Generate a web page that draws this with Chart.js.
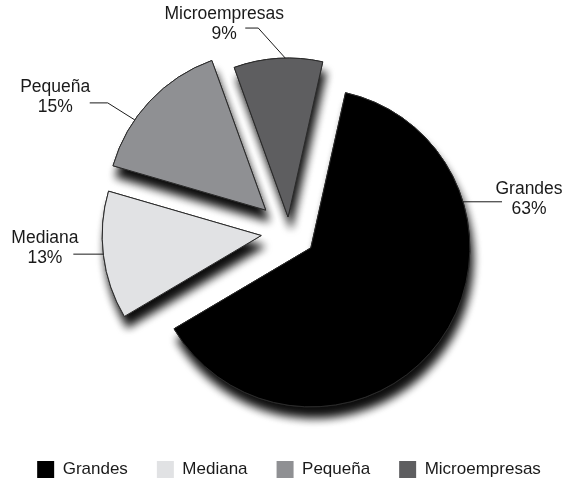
<!DOCTYPE html>
<html>
<head>
<meta charset="utf-8">
<script src="https://cdn.jsdelivr.net/npm/chart.js@4"></script>
<style>
  body { margin: 0; background: #fff; }
  #wrap { width: 572px; height: 481px; }
</style>
</head>
<body>
<div id="wrap"><canvas id="pieChart"></canvas></div>
<script>
var labels = ["Grandes", "Mediana", "Pequeña", "Microempresas"];
var values = [63, 13, 15, 9];
var colors = ["#000000", "#e1e2e4", "#8f9093", "#5e5e60"];

// how far each slice is pulled out from the centre (px)
var explode = [27, 28, 32, 15];
// where along each slice the leader line touches the rim (0..1)
var labelAt = [0.267, 0.51, 0.34, 0.58];
var leaders = [
    { elbow: [0, 0], tail: 39, text: [27, -3] },
    { elbow: [0, 0], tail: -30, text: [-28.4, -6] },
    { elbow: [-27, -17], tail: -18, text: [-34.5, -6] },
    { elbow: [-27, -30], tail: -13, text: [-21, -4] }
];

var fontFamily = "'Liberation Sans', Arial, sans-serif";

var explodePlugin = {
    id: "explode",
    afterDatasetUpdate: function (chart, args) {
        args.meta.data.forEach(function (arc, i) {
            var mid = (arc.startAngle + arc.endAngle) / 2;
            arc.x += Math.cos(mid) * explode[i];
            arc.y += Math.sin(mid) * explode[i];
        });
    }
};

var shadowPlugin = {
    id: "shadow",
    beforeDatasetsDraw: function (chart) {
        var ctx = chart.ctx;
        ctx.save();
        ctx.shadowColor = "rgba(0,0,0,0.95)";
        ctx.shadowBlur = 9;
        ctx.shadowOffsetX = 3;
        ctx.shadowOffsetY = 11;
        chart.getDatasetMeta(0).data.forEach(function (arc) {
            arc.draw(ctx);
        });
        ctx.restore();
    }
};

var labelPlugin = {
    id: "sliceLabels",
    afterDatasetsDraw: function (chart) {
        var ctx = chart.ctx;
        var total = values.reduce(function (a, b) { return a + b; }, 0);
        ctx.save();
        ctx.strokeStyle = "#1a1a1a";
        ctx.lineWidth = 1;
        ctx.fillStyle = "#1a1a1a";
        ctx.font = "17.5px " + fontFamily;
        ctx.textAlign = "center";
        ctx.textBaseline = "middle";
        chart.getDatasetMeta(0).data.forEach(function (arc, i) {
            var a = arc.startAngle + labelAt[i] * (arc.endAngle - arc.startAngle);
            var ax = arc.x + Math.cos(a) * arc.outerRadius;
            var ay = arc.y + Math.sin(a) * arc.outerRadius;
            var L = leaders[i];
            var ex = ax + L.elbow[0], ey = ay + L.elbow[1];
            var tx = ex + L.tail;
            ctx.beginPath();
            ctx.moveTo(ax, ay);
            ctx.lineTo(ex, ey);
            ctx.lineTo(tx, ey);
            ctx.stroke();
            var cx = tx + L.text[0], cy = ey + L.text[1];
            ctx.fillText(labels[i], cx, cy - 10);
            ctx.fillText(Math.round(values[i] / total * 100) + "%", cx, cy + 10);
        });
        ctx.restore();
    }
};

var ctx = document.getElementById("pieChart").getContext("2d");
var myChart = new Chart(ctx, {
    type: "pie",
    data: {
        labels: labels,
        datasets: [
            {
                data: values,
                backgroundColor: colors,
                borderColor: "#2a2a2a",
                borderWidth: 1
            }
        ]
    },
    options: {
        responsive: true,
        maintainAspectRatio: false,
        animation: false,
        rotation: 12.6,
        radius: 159,
        layout: {
            padding: { top: 32, left: 6, right: 0, bottom: 0 }
        },
        plugins: {
            tooltip: { enabled: false },
            legend: {
                position: "bottom",
                maxHeight: 49,
                labels: {
                    boxWidth: 17,
                    boxHeight: 17,
                    padding: 29,
                    color: "#1a1a1a",
                    font: { family: fontFamily, size: 17 },
                    generateLabels: function (chart) {
                        return labels.map(function (text, i) {
                            return {
                                text: text,
                                fillStyle: colors[i],
                                strokeStyle: colors[i],
                                lineWidth: 0,
                                fontColor: "#1a1a1a",
                                hidden: false,
                                index: i
                            };
                        });
                    }
                }
            }
        }
    },
    plugins: [explodePlugin, shadowPlugin, labelPlugin]
});
</script>
</body>
</html>
